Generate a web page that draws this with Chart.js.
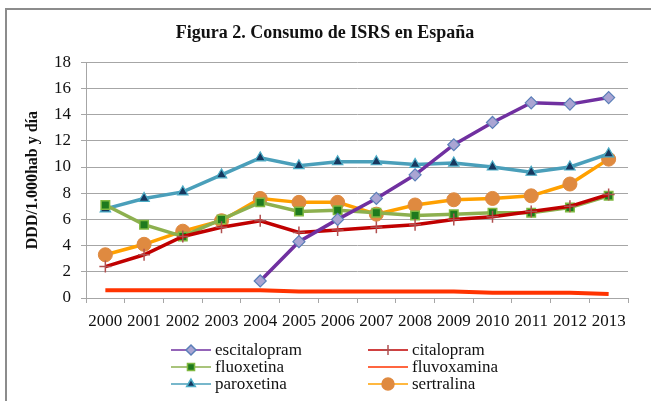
<!DOCTYPE html>
<html>
<head>
<meta charset="utf-8">
<script src="https://cdn.jsdelivr.net/npm/chart.js@4.4.1/dist/chart.umd.min.js"></script>
<style>
  html, body { margin: 0; padding: 0; background: #fff; }
  #wrap { width: 651px; height: 401px; }
</style>
</head>
<body>
<div id="wrap"><canvas id="isrsChart" width="651" height="401"></canvas></div>
<script>
// years on the x axis
const years = ['2000', '2001', '2002', '2003', '2004', '2005', '2006',
  '2007', '2008', '2009', '2010', '2011', '2012', '2013'];

// DDD per 1.000 hab y día
const escitalopram = [null, null, null, null, 1.3, 4.3, 6.0, 7.6, 9.4, 11.7, 13.4, 14.9, 14.8, 15.3];
const citalopram = [2.4, 3.3, 4.7, 5.4, 5.9, 5.0, 5.2, 5.4, 5.6, 6.0, 6.2, 6.6, 7.0, 7.9];
const fluoxetina = [7.1, 5.6, 4.7, 6.0, 7.3, 6.6, 6.7, 6.5, 6.3, 6.4, 6.5, 6.5, 6.9, 7.8];
const fluvoxamina = [0.6, 0.6, 0.6, 0.6, 0.6, 0.5, 0.5, 0.5, 0.5, 0.5, 0.4, 0.4, 0.4, 0.3];
const paroxetina = [6.8, 7.6, 8.1, 9.4, 10.7, 10.1, 10.4, 10.4, 10.2, 10.3, 10.0, 9.6, 10.0, 11.0];
const sertralina = [3.3, 4.1, 5.1, 5.9, 7.6, 7.3, 7.3, 6.4, 7.1, 7.5, 7.6, 7.8, 8.7, 10.6];

const yTicks = [0, 2, 4, 6, 8, 10, 12, 14, 16, 18];

const serif = "'Liberation Serif', 'Times New Roman', serif";
const gridGray = '#a6a6a6';

// frame round the figure (only left and top edges are visible)
const framePlugin = {
  id: 'frame',
  beforeDraw(chart) {
    const c = chart.ctx;
    c.save();
    c.fillStyle = '#fff';
    c.fillRect(0, 0, chart.width, chart.height);
    c.strokeStyle = '#8c8c8c';
    c.lineWidth = 2;
    c.beginPath();
    c.moveTo(6, chart.height);
    c.lineTo(6, 9);
    c.lineTo(chart.width, 9);
    c.stroke();
    c.restore();
  }
};

// two column legend under the plot
const pairLegend = {
  id: 'pairLegend',
  afterDraw(chart) {
    const c = chart.ctx;
    const area = chart.chartArea;
    c.save();
    c.font = '17px ' + serif;
    c.textBaseline = 'middle';
    c.fillStyle = '#111';
    chart.data.datasets.forEach((ds, i) => {
      const col = i % 2;
      const row = Math.floor(i / 2);
      const x0 = area.left + 85 + col * 197;
      const y = area.bottom + 52 + row * 17;
      c.strokeStyle = ds.borderColor;
      c.lineWidth = 1.5;
      c.beginPath();
      c.moveTo(x0, y);
      c.lineTo(x0 + 40, y);
      c.stroke();
      if (ds.pointRadius > 0) {
        c.fillStyle = ds.pointBackgroundColor;
        c.strokeStyle = ds.pointBorderColor;
        Chart.helpers.drawPoint(c, {
          pointStyle: ds.pointStyle,
          radius: ds.pointRadius - 1,
          borderWidth: ds.pointBorderWidth,
          rotation: 0
        }, x0 + 20, y);
      }
      c.fillStyle = '#111';
      c.fillText(ds.label, x0 + 44, y + 1);
    });
    c.restore();
  }
};

const ctx = document.getElementById('isrsChart').getContext('2d');

new Chart(ctx, {
  type: 'line',
  data: {
    labels: years,
    datasets: [
      {
        label: 'escitalopram',
        data: escitalopram,
        borderColor: '#7030a0',
        borderWidth: 3.5,
        pointStyle: 'rectRot',
        pointRadius: 6,
        pointBackgroundColor: '#aaa5d3',
        pointBorderColor: '#5b7fb8',
        pointBorderWidth: 1.2
      },
      {
        label: 'citalopram',
        data: citalopram,
        borderColor: '#c00000',
        borderWidth: 3.5,
        pointStyle: 'cross',
        pointRadius: 6,
        pointBackgroundColor: '#b05050',
        pointBorderColor: '#b05050',
        pointBorderWidth: 1.5
      },
      {
        label: 'fluoxetina',
        data: fluoxetina,
        borderColor: '#8db04f',
        borderWidth: 3.5,
        pointStyle: 'rect',
        pointRadius: 6,
        pointBackgroundColor: '#1e7a1e',
        pointBorderColor: '#7fb840',
        pointBorderWidth: 1.5
      },
      {
        label: 'fluvoxamina',
        data: fluvoxamina,
        borderColor: '#ff3300',
        borderWidth: 4,
        pointRadius: 0,
        pointHoverRadius: 0
      },
      {
        label: 'paroxetina',
        data: paroxetina,
        borderColor: '#4a9fba',
        borderWidth: 3.5,
        pointStyle: 'triangle',
        pointRadius: 6,
        pointBackgroundColor: '#17375e',
        pointBorderColor: '#4bacc6',
        pointBorderWidth: 1.2
      },
      {
        label: 'sertralina',
        data: sertralina,
        borderColor: '#ffa000',
        borderWidth: 3.5,
        pointStyle: 'circle',
        pointRadius: 7,
        pointBackgroundColor: '#df8a40',
        pointBorderColor: '#df8a40',
        pointBorderWidth: 1
      }
    ]
  },
  options: {
    responsive: false,
    animation: false,
    layout: { padding: { left: 22, right: 23, top: 0, bottom: 0 } },
    plugins: {
      legend: { display: false },
      tooltip: { enabled: false },
      title: {
        display: true,
        text: 'Figura 2. Consumo de ISRS en España',
        color: '#111',
        font: { family: serif, size: 18, weight: 'bold', lineHeight: 1.2 },
        padding: { top: 23, bottom: 17.6 }
      }
    },
    scales: {
      x: {
        offset: true,
        afterFit: (scale) => { scale.height = 103; },
        grid: {
          offset: true,
          drawOnChartArea: false,
          drawTicks: true,
          tickLength: 5,
          color: gridGray
        },
        border: { color: gridGray, width: 1 },
        ticks: {
          color: '#111',
          font: { family: serif, size: 17 },
          padding: 8,
          maxRotation: 0,
          autoSkip: false
        }
      },
      y: {
        min: 0,
        max: 18,
        afterFit: (scale) => { scale.width = 64; },
        afterBuildTicks: (scale) => {
          scale.ticks = yTicks.map((v) => ({ value: v }));
        },
        grid: {
          color: gridGray,
          lineWidth: 1,
          drawTicks: true,
          tickLength: 5
        },
        border: { color: gridGray, width: 1 },
        ticks: {
          color: '#111',
          font: { family: serif, size: 17 },
          padding: 10
        },
        title: {
          display: true,
          text: 'DDD/1.000hab y día',
          color: '#111',
          font: { family: serif, size: 16, weight: 'bold', lineHeight: 1.2 },
          padding: { top: 1, bottom: 0 }
        }
      }
    }
  },
  plugins: [framePlugin, pairLegend]
});
</script>
</body>
</html>
